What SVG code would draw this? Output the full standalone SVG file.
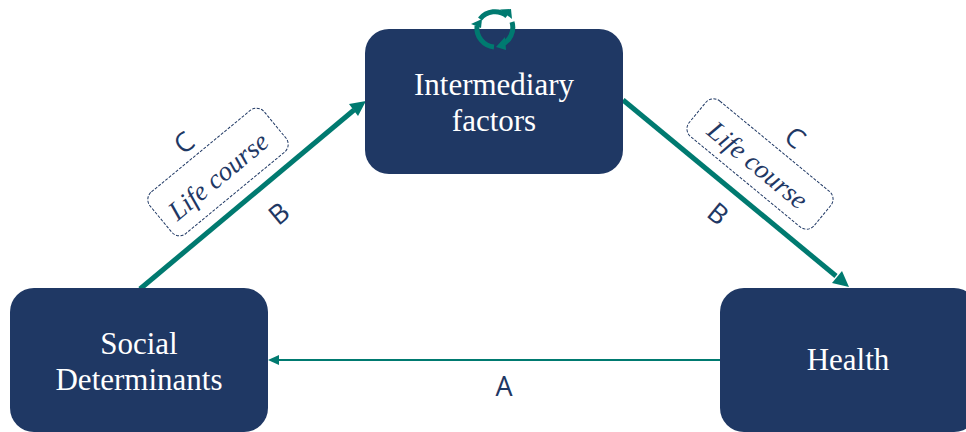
<svg xmlns="http://www.w3.org/2000/svg" width="966" height="432" viewBox="0 0 966 432">
<style>
.n{fill:#1f3864}
.t{font-family:"Liberation Serif",serif;font-size:31px;fill:#fff;text-anchor:middle}
.l{font-family:"Open Sans","Noto Sans",sans-serif;font-size:27px;fill:#1f3864;text-anchor:middle}
.i{font-family:"Liberation Serif",serif;font-style:italic;font-size:27px;fill:#1f3864;text-anchor:middle}
.d{fill:#fff;stroke:#1f3864;stroke-width:1;stroke-dasharray:3 1.5}
.c{fill:none;stroke:#007a70}
.h{fill:#007a70}
.r{fill:none;stroke:#007a70;stroke-width:5}
</style>
<rect width="966" height="432" fill="#fff"/>
<g id="connectors">
<path class="c" stroke-width="5" d="M140 289L354 110"/>
<path class="h" d="M366 101L349 104L358 116Z"/>
<path class="c" stroke-width="5" d="M623 100L836 276"/>
<path class="h" d="M849 287L842 271L832 283Z"/>
<path class="c" stroke-width="2" d="M721 360L278 360"/>
<path class="h" d="M268 360L279 355L279 365Z"/>
</g>
<g id="node-intermediary">
<rect class="n" x="365" y="29" width="258" height="145" rx="24"/>
<text class="t" x="494" y="95">Intermediary</text>
<text class="t" x="494" y="131">factors</text>
</g>
<g id="cycle-icon">
<path class="r" d="M480 19A19 19 0 0 1 507 16"/>
<path class="h" d="M512 19L500 9.500L511 9Z"/>
<path class="r" d="M512 22A19 19 0 0 1 501 45"/>
<path class="h" d="M496 47L505 37L506 50Z"/>
<path class="r" d="M494 47A19 19 0 0 1 477 26"/>
<path class="h" d="M471 24L482 19L481 28Z"/>
</g>
<g id="node-social">
<rect class="n" x="10" y="288" width="258" height="144" rx="24"/>
<text class="t" x="139" y="354">Social</text>
<text class="t" x="139" y="390">Determinants</text>
</g>
<g id="node-health">
<rect class="n" x="720" y="288" width="258" height="144" rx="24"/>
<text class="t" x="848" y="370">Health</text>
</g>
<g id="lifecourse-left">
<rect class="d" x="-74" y="-27" width="148" height="54" rx="10" transform="translate(218 172) rotate(-39.500)"/>
<text class="i" transform="translate(224 183) rotate(-39.500)">Life course</text>
</g>
<g id="lifecourse-right">
<rect class="d" x="-81" y="-23" width="162" height="46" rx="10" transform="translate(760 164) rotate(39.500)"/>
<text class="i" transform="translate(752 172) rotate(39.500)">Life course</text>
</g>
<g id="labels">
<text class="l" transform="translate(190 150) rotate(-39.500)">C</text>
<text class="l" transform="translate(285 221) rotate(-39.500)">B</text>
<text class="l" transform="translate(789 145) rotate(39.500)">C</text>
<text class="l" transform="translate(712 221) rotate(39.500)">B</text>
<text class="l" x="504" y="396">A</text>
</g>
</svg>
